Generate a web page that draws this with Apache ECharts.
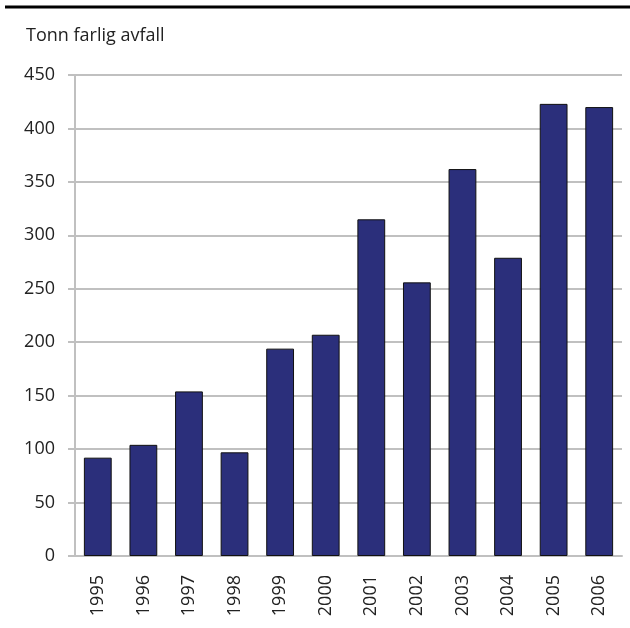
<!DOCTYPE html>
<html>
<head>
<meta charset="utf-8">
<script src="https://cdn.jsdelivr.net/npm/echarts@6/dist/echarts.min.js"></script>
<style>
  html, body { margin: 0; padding: 0; background: #fff; }
  #chart { width: 630px; height: 628px; }
</style>
</head>
<body>
<div id="chart"></div>
<script>
// årstall og tonn farlig avfall
var years = ['1995', '1996', '1997', '1998', '1999', '2000', '2001', '2002', '2003', '2004', '2005', '2006']
var tonn = [92, 104, 154, 97, 194, 207, 315, 256, 362, 279, 423, 420]
var yTicks = { min: 0, max: 450, interval: 50 }

var chart = echarts.init(document.getElementById('chart'))
var font = '"Open Sans", "DejaVu Sans", sans-serif'

chart.setOption({
  animation: false,
  textStyle: { fontFamily: font },
  title: {
    text: 'Tonn farlig avfall',
    left: 21,
    top: 22,
    textStyle: { fontSize: 18, fontWeight: 'normal', color: '#222', fontFamily: font }
  },
  graphic: [
    {
      type: 'line',
      shape: { x1: 5, y1: 7, x2: 630, y2: 7 },
      style: { stroke: '#000', lineWidth: 3 }
    }
  ],
  grid: { left: 75, right: 8, top: 75, bottom: 72 },
  xAxis: {
    type: 'category',
    data: years,
    axisLine: { lineStyle: { color: '#c0c0c0', width: 2 } },
    axisTick: { length: 8, lineStyle: { color: '#c0c0c0', width: 2 } },
    axisLabel: { rotate: 90, margin: 19, fontSize: 18, color: '#222', fontFamily: font }
  },
  yAxis: {
    type: 'value',
    min: yTicks.min,
    max: yTicks.max,
    interval: yTicks.interval,
    axisLine: { show: true, lineStyle: { color: '#c0c0c0', width: 2 } },
    axisTick: { show: true, length: 7, lineStyle: { color: '#c0c0c0', width: 2 } },
    splitLine: { lineStyle: { color: '#c0c0c0', width: 2 } },
    axisLabel: { margin: 20, fontSize: 18, color: '#222', fontFamily: font }
  },
  series: [
    {
      type: 'bar',
      data: tonn,
      barWidth: '61%',
      itemStyle: { color: '#2b2f7b', borderColor: '#111', borderWidth: 1 }
    }
  ]
})
</script>
</body>
</html>
